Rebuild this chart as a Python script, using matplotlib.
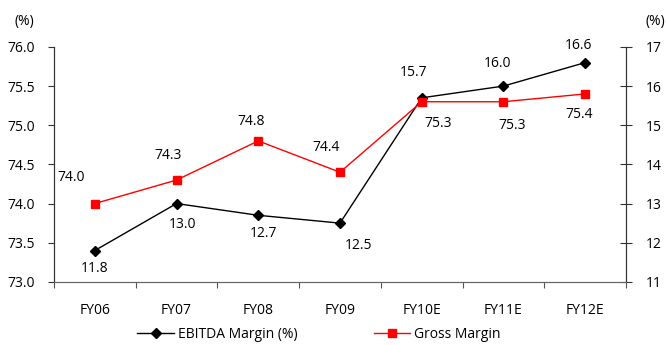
import matplotlib.pyplot as plt
from matplotlib.ticker import FormatStrFormatter

years = ["FY06", "FY07", "FY08", "FY09", "FY10E", "FY11E", "FY12E"]
ebitda = [11.8, 13.0, 12.7, 12.5, 15.7, 16.0, 16.6]
gross = [74.0, 74.3, 74.8, 74.4, 75.3, 75.3, 75.4]

# label offsets in points (dx, dy) for each point
ebitda_off = [(0, -13), (4, -15), (4, -13), (13, -16), (-6, 18), (-4, 16), (-5, 12)]
gross_off = [(-17, 19), (-6, 18), (-5, 14), (-10, 18), (12, -16), (6, -17), (-4, -15)]

plt.rcParams['font.family'] = ['Open Sans', 'DejaVu Sans']
plt.rcParams['font.size'] = 10

fig = plt.figure(figsize=(6.66, 3.45), dpi=100)
ax = fig.add_axes([0.081, 0.183, 0.859, 0.681])
ax2 = ax.twinx()

x = list(range(len(years)))

l1, = ax2.plot(x, ebitda, color='black', marker='D', ms=5, lw=1.0, label='EBITDA Margin (%)')
l2, = ax.plot(x, gross, color='#ff0000', marker='s', ms=6, lw=1.0, label='Gross Margin')
ax.set_zorder(ax2.get_zorder() + 1)
ax.patch.set_visible(False)

for i, v in enumerate(ebitda):
    ax2.annotate('%.1f' % v, (i, v), xytext=ebitda_off[i], textcoords='offset points',
                 ha='center', va='center', fontsize=10)
for i, v in enumerate(gross):
    ax.annotate('%.1f' % v, (i, v), xytext=gross_off[i], textcoords='offset points',
                ha='center', va='center', fontsize=10)

ax.set_xlim(-0.5, len(years) - 0.5)
ax.set_ylim(73.0, 76.0)
ax.set_yticks([73.0, 73.5, 74.0, 74.5, 75.0, 75.5, 76.0])
ax.yaxis.set_major_formatter(FormatStrFormatter('%.1f'))
ax2.set_ylim(11, 17)
ax2.set_yticks(range(11, 18))

# category boundaries get the tick marks, labels sit at the centres
ax.set_xticks([i - 0.5 for i in range(len(years) + 1)])
ax.set_xticklabels([])
ax.set_xticks(x, minor=True)
ax.set_xticklabels(years, minor=True)
ax.tick_params(axis='x', which='major', direction='out', length=4, color='#555555')
ax.tick_params(axis='x', which='minor', length=0, pad=15)
ax.tick_params(axis='y', direction='out', length=4, pad=10, color='#333333')
ax2.tick_params(axis='y', direction='inout', length=8, pad=10, color='#333333')

for a in (ax, ax2):
    a.spines['top'].set_visible(False)
    a.spines['left'].set_color('#333333')
    a.spines['right'].set_color('#333333')
    a.spines['bottom'].set_color('#666666')

fig.text(24 / 666, 1 - 22 / 345, '(%)', ha='center', va='center', fontsize=10)
fig.text(655 / 666, 1 - 22 / 345, '(%)', ha='center', va='center', fontsize=10)

fig.legend([l1, l2], ['EBITDA Margin (%)', 'Gross Margin'], loc='center',
           bbox_to_anchor=(0.479, 0.03), ncol=2, frameon=False,
           handlelength=2.6, columnspacing=5.5, handletextpad=0.3, numpoints=1)

fig.savefig('out.png', dpi=100)
